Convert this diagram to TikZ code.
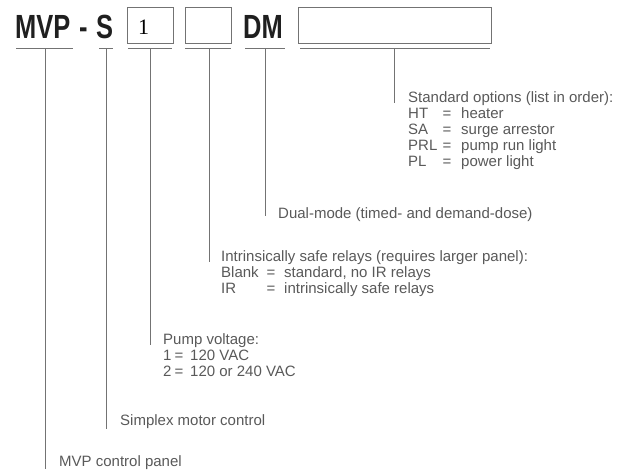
\documentclass[tikz,border=0pt]{standalone}
\usepackage{fontspec}
\setmainfont{Liberation Sans}
\newfontfamily\hdrfont{Liberation Sans}[FakeStretch=0.76]
\newfontfamily\numfont{Liberation Serif}
\definecolor{txtgray}{gray}{0.35}
\definecolor{linegray}{gray}{0.45}
\begin{document}
\begin{tikzpicture}[x=1pt,y=-1pt,
  lbl/.style={anchor=base west, inner sep=0pt, font=\fontsize{15}{18}\selectfont, text=txtgray},
  eqs/.style={anchor=base, inner sep=0pt, font=\fontsize{15}{18}\selectfont, text=txtgray},
  hdr/.style={anchor=base west, inner sep=0pt, font=\hdrfont\bfseries\fontsize{33.5}{36}\selectfont, text=black!88},
  codebox/.style={draw=linegray, line width=0.8pt, anchor=north west, inner sep=0pt, minimum height=36pt},
  uline/.style={draw=linegray, line width=1pt},
  leader/.style={draw=linegray, line width=0.6pt}]
\useasboundingbox (0,0) rectangle (627,470);

% header
\node[hdr] (mvp) at (15,39) {MVP};
\node[hdr] (dash) at (79,39) {-};
\node[hdr] (s) at (96,39) {S};
\node[codebox, minimum width=46pt] (b1) at (127,7) {};
\node[anchor=base west, inner sep=0pt, font=\numfont\fontsize{22}{24}\selectfont] (one) at (138,35) {1};
\node[codebox, minimum width=46pt] (b2) at (185,7) {};
\node[hdr] (dm) at (243,39) {DM};
\node[codebox, minimum width=193pt] (b3) at (298,7) {};

% underlines
\coordinate (l1a) at (16,49);  \coordinate (l1b) at (73,49);
\coordinate (l2a) at (99,49);  \coordinate (l2b) at (113,49);
\coordinate (l3a) at (128,49); \coordinate (l3b) at (172,49);
\coordinate (l4a) at (185,49); \coordinate (l4b) at (231,49);
\coordinate (l5a) at (245,49); \coordinate (l5b) at (285,49);
\coordinate (l6a) at (300,49); \coordinate (l6b) at (490,49);
\foreach \i in {1,...,6} { \draw[uline] (l\i a) -- (l\i b); }

% leader tops
\coordinate (u1) at (45,49);
\coordinate (u2) at (106,49);
\coordinate (u3) at (150,49);
\coordinate (u4) at (209,49);
\coordinate (u5) at (265,49);
\coordinate (u6) at (394,49);

% standard options
\node[lbl] (so) at (408,103) {Standard options (list in order):};
\node[lbl] (ht) at (408,119) {HT};
\node[eqs] (hteq) at (447,119) {=};
\node[lbl] (htv) at (461,119) {heater};
\node[lbl] (sa) at (408,135) {SA};
\node[eqs] (saeq) at (447,135) {=};
\node[lbl] (sav) at (461,135) {surge arrestor};
\node[lbl] (prl) at (408,151) {PRL};
\node[eqs] (prleq) at (447,151) {=};
\node[lbl] (prlv) at (461,151) {pump run light};
\node[lbl] (pl) at (408,167) {PL};
\node[eqs] (pleq) at (447,167) {=};
\node[lbl] (plv) at (461,167) {power light};

% dual-mode
\node[lbl] (dual) at (278,219) {Dual-mode (timed- and demand-dose)};

% intrinsically safe
\node[lbl] (isr) at (221,262) {Intrinsically safe relays (requires larger panel):};
\node[lbl] (blank) at (221,278) {Blank};
\node[eqs] (blankeq) at (271,278) {=};
\node[lbl] (blankv) at (284,278) {standard, no IR relays};
\node[lbl] (ir) at (221,294) {IR};
\node[eqs] (ireq) at (271,294) {=};
\node[lbl] (irv) at (284,294) {intrinsically safe relays};

% pump voltage
\node[lbl] (pv) at (163,345) {Pump voltage:};
\node[lbl] (v1) at (163,361) {1};
\node[eqs] (v1eq) at (179,361) {=};
\node[lbl] (v1v) at (190,361) {120 VAC};
\node[lbl] (v2) at (163,377) {2};
\node[eqs] (v2eq) at (179,377) {=};
\node[lbl] (v2v) at (190,377) {120 or 240 VAC};

% simplex
\node[lbl] (smc) at (120,426) {Simplex motor control};

% mvp control panel
\node[lbl] (mcp) at (59,466) {MVP control panel};

% leaders
\draw[leader] (u6) -- (u6 |- so.base);
\draw[leader] (u5) -- ([yshift=3pt]u5 |- dual.base);
\draw[leader] (u4) -- (u4 |- isr.base);
\draw[leader] (u3) -- (u3 |- pv.base);
\draw[leader] (u2) -- ([yshift=-3pt]u2 |- smc.base);
\draw[leader] (u1) -- ([yshift=-3pt]u1 |- mcp.base);
\end{tikzpicture}
\end{document}
